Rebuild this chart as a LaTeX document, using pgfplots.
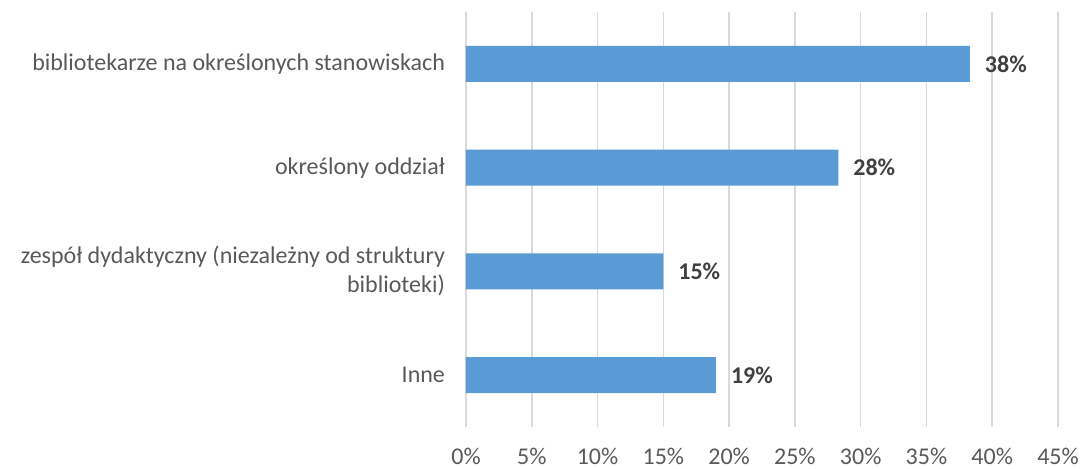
\documentclass[border=0pt]{standalone}
\usepackage{fontspec}
\setmainfont{Carlito}
\usepackage{pgfplots}
\pgfplotsset{compat=1.18}
\definecolor{barblue}{HTML}{5B9BD5}
\definecolor{txtgray}{HTML}{595959}
\definecolor{lblgray}{HTML}{404040}
\definecolor{gridgray}{HTML}{D9D9D9}
\begin{document}
\begin{tikzpicture}
\path[use as bounding box] (0,0) rectangle (542pt,234pt);
\begin{axis}[
  at={(233pt,20.5pt)}, anchor=south west,
  scale only axis, width=296pt, height=207.5pt,
  xbar, bar width=18pt,
  xmin=0, xmax=45, ymin=-0.5, ymax=3.5, y dir=reverse,
  xtick={0,5,...,45},
  xticklabels={0\%,5\%,10\%,15\%,20\%,25\%,30\%,35\%,40\%,45\%},
  ytick={0,1,2,3},
  yticklabels={bibliotekarze na określonych stanowiskach,określony oddział,{zespół dydaktyczny (niezależny od struktury\\biblioteki)},Inne},
  yticklabel style={align=right, text=txtgray, font=\fontsize{12}{14.5}\selectfont},
  xticklabel style={text=txtgray, font=\fontsize{12}{14.5}\selectfont},
  yticklabel style={xshift=-7pt},
  xticklabel style={yshift=-7pt},
  major tick length=0pt,
  axis line style={draw=none},
  xmajorgrids, grid style={gridgray, line width=0.75pt},
  /pgf/number format/assume math mode=true,
  point meta=x,
  nodes near coords={\pgfmathprintnumber[fixed,precision=0]{\pgfplotspointmeta}\%},
  nodes near coords style={font=\fontsize{12}{14.5}\selectfont\bfseries, text=lblgray, anchor=west, xshift=4pt},
  clip=false,
]
\addplot[draw=none, fill=barblue] coordinates {(38.3,0) (28.3,1) (15.0,2) (19.0,3)};
\end{axis}
\end{tikzpicture}
\end{document}
